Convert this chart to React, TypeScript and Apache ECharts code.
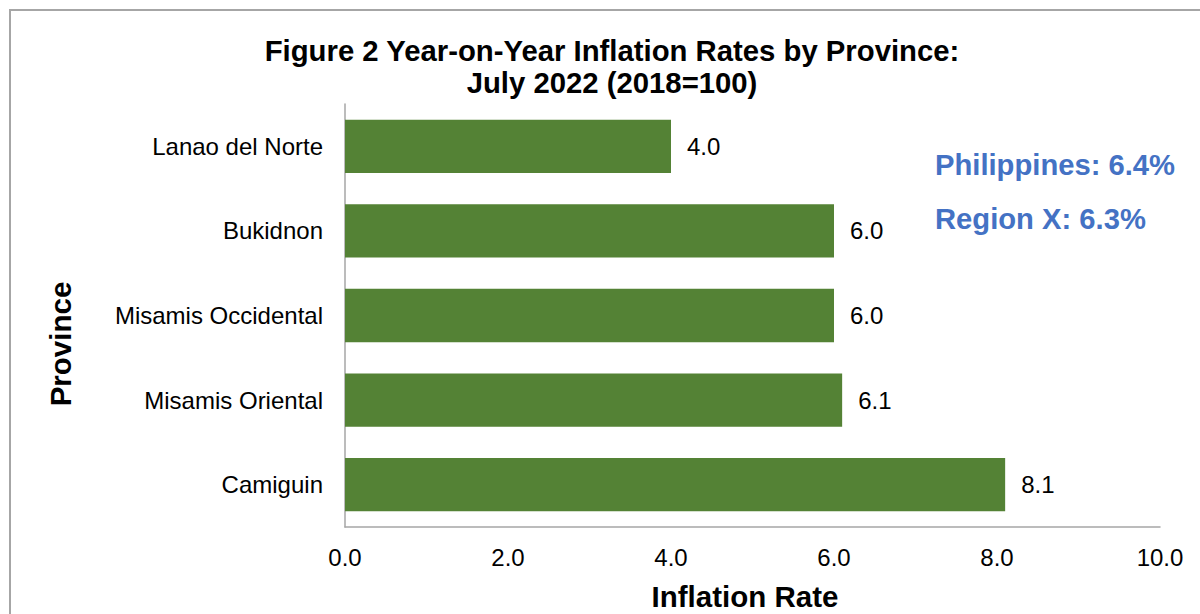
import React, { useEffect, useRef } from "react";
import * as echarts from "echarts";

const provinces = ["Lanao del Norte", "Bukidnon", "Misamis Occidental", "Misamis Oriental", "Camiguin"];
const inflationRates = [4.0, 6.0, 6.0, 6.1, 8.1];
const titleLines = ["Figure 2 Year-on-Year Inflation Rates by Province:", "July 2022 (2018=100)"];
const notes = ["Philippines: 6.4%", "Region X: 6.3%"];
const xAxisTitle = "Inflation Rate";
const yAxisTitle = "Province";

const FONT = "'Liberation Sans', Arial, sans-serif";

export default function App() {
  const ref = useRef<HTMLDivElement>(null);
  useEffect(() => {
    if (!ref.current) return;
    const chart = echarts.init(ref.current, null, { renderer: "svg" });
    chart.setOption({
      animation: false,
      backgroundColor: "#ffffff",
      textStyle: { fontFamily: FONT },
      title: {
        text: titleLines.join("\n"),
        left: 607,
        top: 29,
        textAlign: "center",
        textStyle: { fontFamily: FONT, fontSize: 29.3, fontWeight: "bold", color: "#000", lineHeight: 32 },
      },
      grid: { left: 345, right: 40, top: 104, bottom: 87, containLabel: false, outerBoundsMode: "none" },
      xAxis: {
        type: "value",
        min: 0,
        max: 10,
        interval: 2,
        axisLine: { show: true, lineStyle: { color: "#A6A6A6", width: 1.5 } },
        axisTick: { show: false },
        splitLine: { show: false },
        axisLabel: {
          fontFamily: FONT,
          fontSize: 24,
          color: "#000",
          margin: 18,
          formatter: (v: number) => v.toFixed(1),
        },
      },
      yAxis: {
        type: "category",
        data: provinces,
        inverse: true,
        axisLine: { show: true, lineStyle: { color: "#A6A6A6", width: 1.5 } },
        axisTick: { show: false },
        axisLabel: { fontFamily: FONT, fontSize: 24, color: "#000", margin: 22 },
      },
      series: [
        {
          type: "bar",
          data: inflationRates,
          barCategoryGap: "37%",
          itemStyle: { color: "#548235" },
          label: {
            show: true,
            position: "right",
            distance: 16,
            fontFamily: FONT,
            fontSize: 24,
            color: "#000",
            formatter: (p: any) => Number(p.value).toFixed(1),
          },
        },
      ],
      graphic: [
        {
          type: "rect",
          shape: { x: 10, y: 10, width: 1300, height: 700 },
          style: { fill: "none", stroke: "#A6A6A6", lineWidth: 2 },
          silent: true,
        },
        {
          type: "text",
          x: 745,
          y: 596,
          style: { text: xAxisTitle, fontFamily: FONT, fontSize: 29.5, fontWeight: "bold", fill: "#000", textAlign: "center", textVerticalAlign: "middle" },
        },
        {
          type: "text",
          x: 60,
          y: 344,
          rotation: Math.PI / 2,
          style: { text: yAxisTitle, fontFamily: FONT, fontSize: 29.5, fontWeight: "bold", fill: "#000", textAlign: "center", textVerticalAlign: "middle" },
        },
        {
          type: "text",
          x: 935,
          y: 165,
          style: { text: notes[0], fontFamily: FONT, fontSize: 29.2, fontWeight: "bold", fill: "#4472C4", textVerticalAlign: "middle" },
        },
        {
          type: "text",
          x: 935,
          y: 219,
          style: { text: notes[1], fontFamily: FONT, fontSize: 29.2, fontWeight: "bold", fill: "#4472C4", textVerticalAlign: "middle" },
        },
      ],
    });
    return () => chart.dispose();
  }, []);
  return <div ref={ref} style={{ width: 1200, height: 614, position: "absolute", left: 0, top: 0 }} />;
}
